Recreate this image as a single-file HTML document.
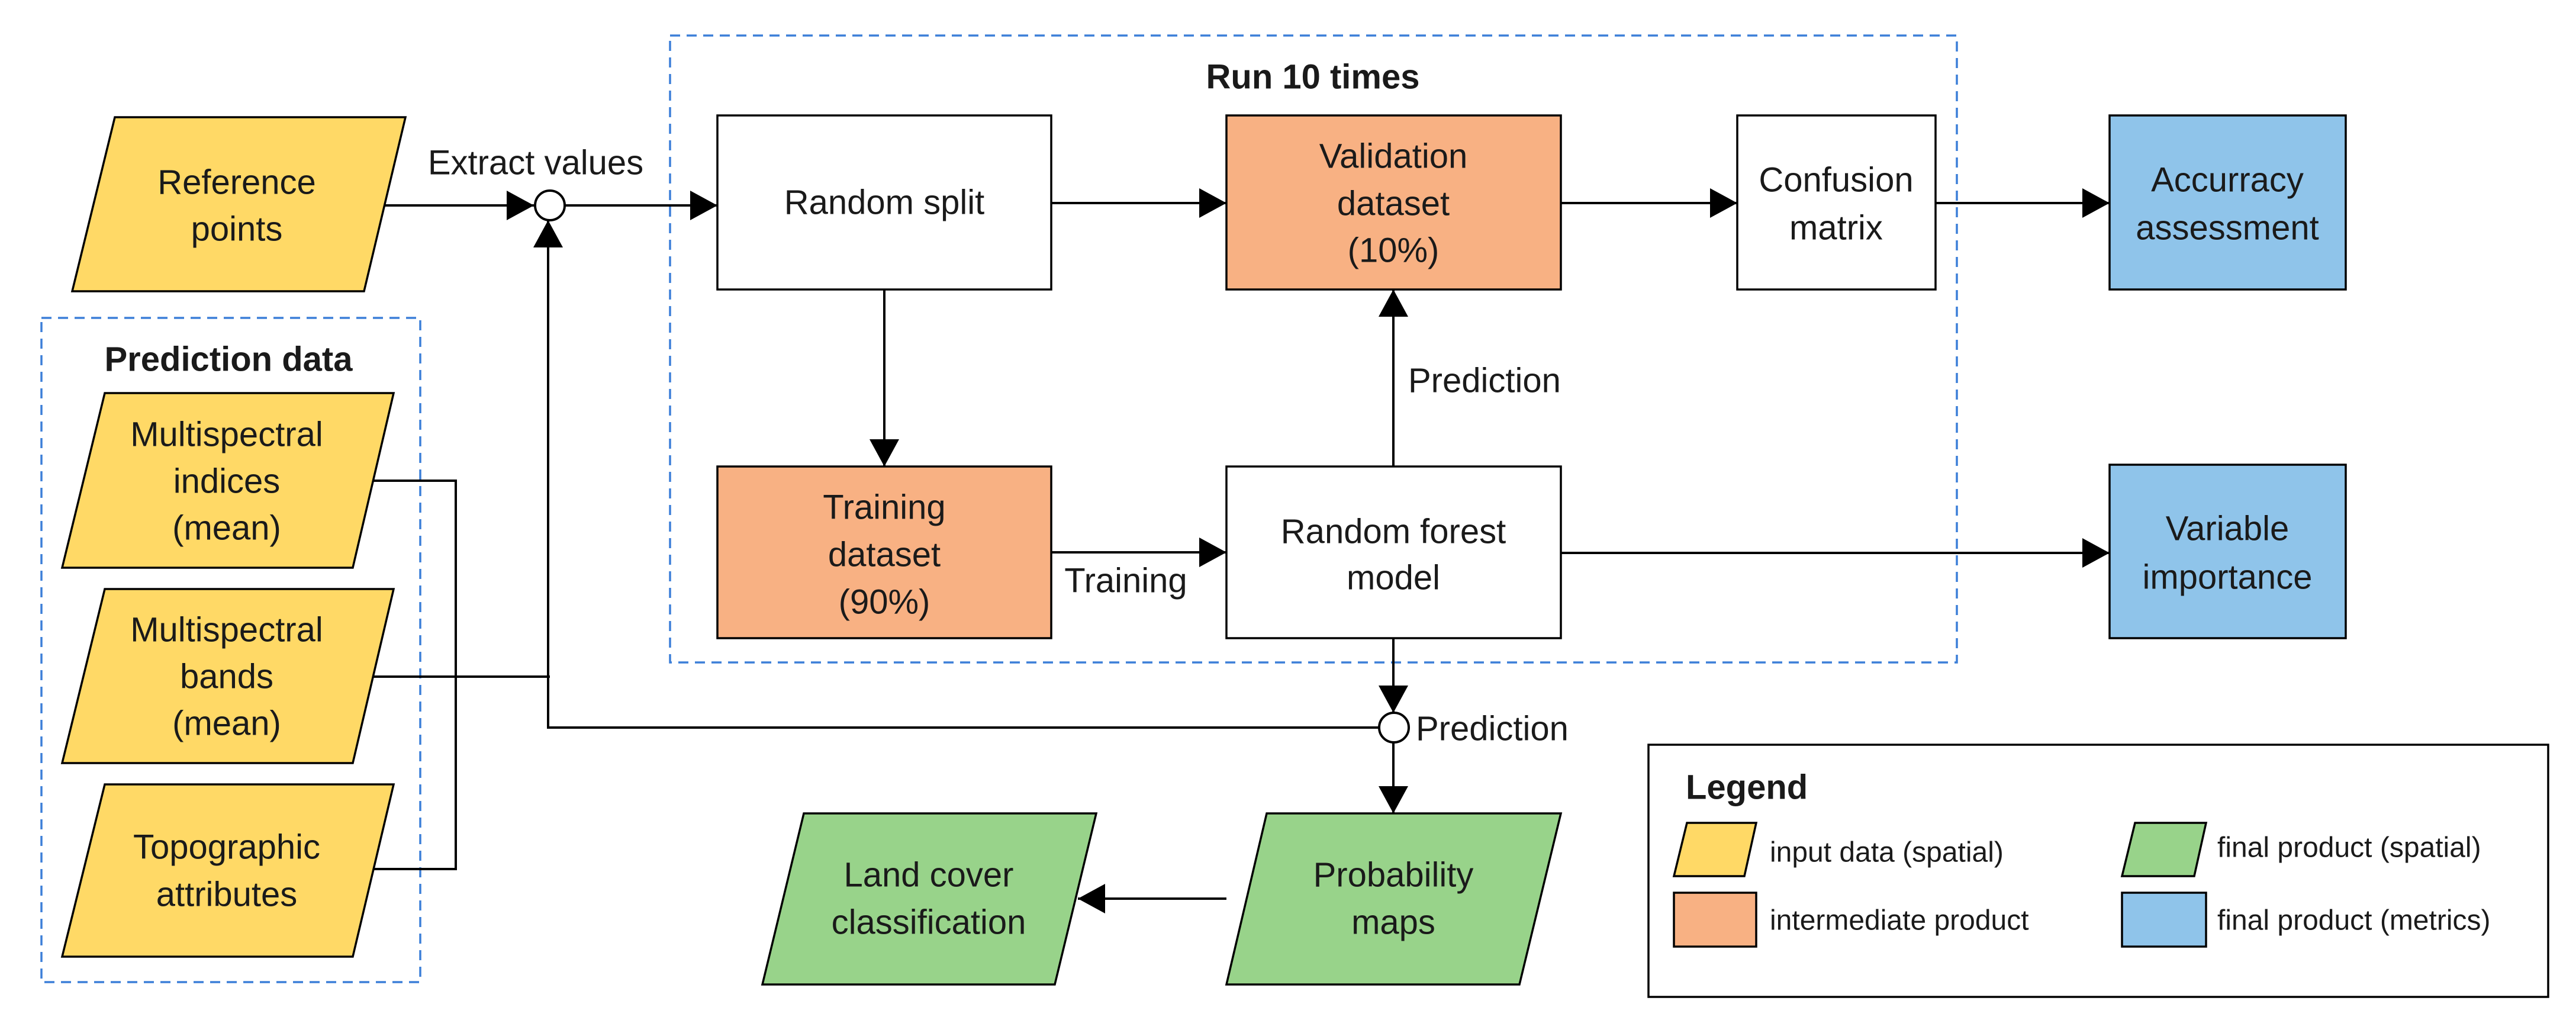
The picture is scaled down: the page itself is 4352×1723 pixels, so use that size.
<!DOCTYPE html>
<html><head><meta charset="utf-8"><style>
html,body{margin:0;padding:0;background:#fff;}
svg{display:block;}
text{font-family:"Liberation Sans",sans-serif;fill:#1a1a1a;}
</style></head><body>
<svg width="4352" height="1723" viewBox="0 0 4352 1723" xmlns="http://www.w3.org/2000/svg">
<defs>
<marker id="a" markerUnits="userSpaceOnUse" markerWidth="48" markerHeight="50" refX="46" refY="25" orient="auto">
<path d="M0,0 L46,25 L0,50 Z" fill="#000"/>
</marker>
</defs>
<g fill="none" stroke="#3c7fd8" stroke-width="3.5" stroke-dasharray="17 11">
<rect x="1132" y="60" width="2174" height="1059"/>
<rect x="70" y="537" width="640" height="1122"/>
</g>
<g stroke="#000" stroke-width="3.5">
<polygon points="194,198 685,198 615,492 122,492" fill="#FFD966"/>
<polygon points="177,664 665,664 596,959 105,959" fill="#FFD966"/>
<polygon points="177,995 665,995 596,1289 105,1289" fill="#FFD966"/>
<polygon points="177,1325 665,1325 596,1616 105,1616" fill="#FFD966"/>
<rect x="1212" y="195" width="564" height="294" fill="#fff"/>
<rect x="1212" y="788" width="564" height="290" fill="#F8B183"/>
<rect x="2072" y="195" width="565" height="294" fill="#F8B183"/>
<rect x="2072" y="788" width="565" height="290" fill="#fff"/>
<rect x="2935" y="195" width="335" height="294" fill="#fff"/>
<rect x="3564" y="195" width="399" height="294" fill="#8FC4EA"/>
<rect x="3564" y="785" width="399" height="293" fill="#8FC4EA"/>
<polygon points="1358,1374 1852,1374 1782,1663 1288,1663" fill="#98D38A"/>
<polygon points="2140,1374 2637,1374 2567,1663 2072,1663" fill="#98D38A"/>
<rect x="2785" y="1258" width="1520" height="426" fill="#fff"/>
<polygon points="2850,1390 2967,1390 2947,1480 2828,1480" fill="#FFD966"/>
<rect x="2828" y="1508" width="139" height="91" fill="#F8B183"/>
<polygon points="3607,1390 3727,1390 3707,1480 3585,1480" fill="#98D38A"/>
<rect x="3585" y="1508" width="142" height="91" fill="#8FC4EA"/>
</g>
<g stroke="#000" stroke-width="4" fill="none">
<line x1="650" y1="347" x2="902" y2="347" marker-end="url(#a)"/>
<line x1="954" y1="347" x2="1212" y2="347" marker-end="url(#a)"/>
<line x1="1776" y1="343" x2="2072" y2="343" marker-end="url(#a)"/>
<line x1="2637" y1="343" x2="2935" y2="343" marker-end="url(#a)"/>
<line x1="3270" y1="343" x2="3564" y2="343" marker-end="url(#a)"/>
<line x1="1494" y1="489" x2="1494" y2="788" marker-end="url(#a)"/>
<line x1="1776" y1="933" x2="2072" y2="933" marker-end="url(#a)"/>
<line x1="2354" y1="788" x2="2354" y2="489" marker-end="url(#a)"/>
<line x1="2637" y1="934" x2="3564" y2="934" marker-end="url(#a)"/>
<line x1="2354" y1="1078" x2="2354" y2="1204" marker-end="url(#a)"/>
<line x1="2354" y1="1254" x2="2354" y2="1374" marker-end="url(#a)"/>
<line x1="2072" y1="1518" x2="1821" y2="1518" marker-end="url(#a)"/>
<polyline points="631,812 770,812 770,1468 631,1468"/>
<line x1="631" y1="1143" x2="929" y2="1143"/>
<polyline points="2330,1229 926,1229 926,372" marker-end="url(#a)"/>
</g>
<g stroke="#000" stroke-width="4" fill="#fff">
<circle cx="929" cy="347" r="25"/>
<circle cx="2355" cy="1229" r="25"/>
</g>
<g font-size="58" text-anchor="middle" dominant-baseline="central">
<text x="400" y="308">Reference</text><text x="400" y="387">points</text>
<text x="383" y="734">Multispectral</text><text x="383" y="813">indices</text><text x="383" y="892">(mean)</text>
<text x="383" y="1064">Multispectral</text><text x="383" y="1143">bands</text><text x="383" y="1222">(mean)</text>
<text x="383" y="1431">Topographic</text><text x="383" y="1511">attributes</text>
<text x="1494" y="342">Random split</text>
<text x="1494" y="857">Training</text><text x="1494" y="937">dataset</text><text x="1494" y="1017">(90%)</text>
<text x="2354" y="264">Validation</text><text x="2354" y="344">dataset</text><text x="2354" y="423">(10%)</text>
<text x="2354" y="898">Random forest</text><text x="2354" y="976">model</text>
<text x="3102" y="304">Confusion</text><text x="3102" y="385">matrix</text>
<text x="3763" y="304">Accurracy</text><text x="3763" y="385">assessment</text>
<text x="3763" y="893">Variable</text><text x="3763" y="975">importance</text>
<text x="1569" y="1478">Land cover</text><text x="1569" y="1558">classification</text>
<text x="2354" y="1478">Probability</text><text x="2354" y="1558">maps</text>
<text x="905" y="275">Extract values</text>
<text x="1902" y="981">Training</text>
<text x="2379" y="643" text-anchor="start">Prediction</text>
<text x="2392" y="1231" text-anchor="start">Prediction</text>
<text x="2218" y="130" font-weight="bold">Run 10 times</text>
<text x="386" y="607" font-weight="bold">Prediction data</text>
<text x="2848" y="1330" font-weight="bold" text-anchor="start">Legend</text>
</g>
<g font-size="48" dominant-baseline="central">
<text x="2990" y="1440">input data (spatial)</text>
<text x="2990" y="1555">intermediate product</text>
<text x="3746" y="1432">final product (spatial)</text>
<text x="3746" y="1555">final product (metrics)</text>
</g>
</svg>
</body></html>
